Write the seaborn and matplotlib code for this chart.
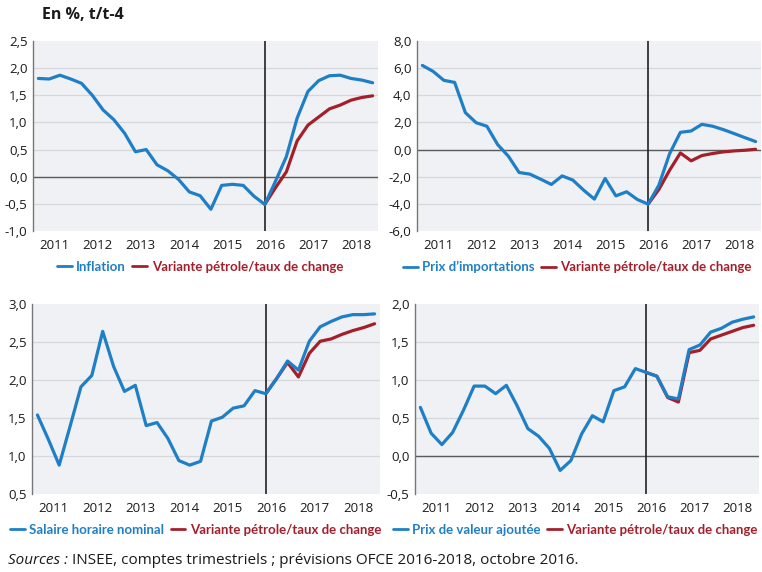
import numpy as np
import pandas as pd
import matplotlib
matplotlib.use('Agg')
import matplotlib.pyplot as plt
from matplotlib.ticker import FuncFormatter, FixedLocator
import seaborn as sns

# trimestres 2011T1 -> 2018T4
years = ['2011', '2012', '2013', '2014', '2015', '2016', '2017', '2018']
quarters = list(range(32))
start_var = 21   # 2016T2, dernier point observe

inflation = [1.81, 1.80, 1.87, 1.80, 1.72, 1.50, 1.23, 1.05, 0.80, 0.46, 0.50, 0.22,
             0.11, -0.05, -0.28, -0.35, -0.60, -0.16, -0.14, -0.16, -0.36, -0.51,
             -0.08, 0.37, 1.08, 1.57, 1.77, 1.86, 1.87, 1.81, 1.78, 1.73]
inflation_var = [-0.51, -0.20, 0.09, 0.66, 0.95, 1.10, 1.25, 1.32, 1.41, 1.46, 1.49]

prix_import = [6.20, 5.76, 5.10, 4.95, 2.72, 1.98, 1.72, 0.37, -0.49, -1.69, -1.81, -2.18,
               -2.57, -1.94, -2.25, -2.99, -3.65, -2.13, -3.41, -3.11, -3.68, -4.02,
               -2.62, -0.30, 1.27, 1.37, 1.86, 1.72, 1.47, 1.18, 0.88, 0.59]
prix_import_var = [-4.02, -2.94, -1.52, -0.25, -0.83, -0.44, -0.29, -0.17, -0.10, -0.05, 0.02]

salaire = [1.54, 1.22, 0.88, 1.39, 1.91, 2.06, 2.64, 2.18, 1.85, 1.93, 1.40, 1.44,
           1.23, 0.94, 0.88, 0.93, 1.46, 1.51, 1.63, 1.66, 1.86, 1.82,
           2.02, 2.25, 2.13, 2.51, 2.70, 2.77, 2.83, 2.86, 2.86, 2.87]
salaire_var = [1.82, 2.02, 2.23, 2.04, 2.35, 2.51, 2.54, 2.60, 2.65, 2.69, 2.74]

prix_va = [0.64, 0.30, 0.15, 0.31, 0.60, 0.92, 0.92, 0.82, 0.93, 0.66, 0.36, 0.26,
           0.10, -0.19, -0.06, 0.29, 0.53, 0.45, 0.86, 0.91, 1.15, 1.10,
           1.05, 0.78, 0.75, 1.40, 1.46, 1.63, 1.68, 1.76, 1.80, 1.83]
prix_va_var = [1.10, 1.05, 0.77, 0.71, 1.36, 1.39, 1.54, 1.59, 1.64, 1.69, 1.72]

var_label = 'Variante pétrole/taux de change'
blue = '#1f7fc6'
red = '#a3202b'

# nom, observe, variante, limites y, pas, cadre (g, h, d, b), position legende (x, y)
panels = [
    ('Inflation', inflation, inflation_var, (-1.0, 2.5), 0.5, (33, 41, 378, 231), (57, 267)),
    ('Prix d\u2019importations', prix_import, prix_import_var, (-6.0, 8.0), 2.0, (417, 41, 761, 231), (403, 267)),
    ('Salaire horaire nominal', salaire, salaire_var, (0.5, 3.0), 0.5, (32, 304, 380, 494), (10, 530)),
    ('Prix de valeur ajoutée', prix_va, prix_va_var, (-0.5, 2.0), 0.5, (415, 304, 759, 494), (393, 530)),
]

sns.set_style('white', {'axes.facecolor': '#f0f1f4'})
plt.rcParams['font.family'] = ['Open Sans', 'DejaVu Sans']

W, H = 762, 572
fig = plt.figure(figsize=(W / 100, H / 100), dpi=100)

def rect(l, t, r, b):
    return [l / W, 1 - b / H, (r - l) / W, (b - t) / H]

fmt = FuncFormatter(lambda v, p: f'{v:.1f}'.replace('.', ','))

for name, obs, var, ylim, step, box, legpos in panels:
    ax = fig.add_axes(rect(*box))
    df = pd.concat([
        pd.DataFrame({'t': quarters, 'val': obs, 'serie': name}),
        pd.DataFrame({'t': quarters[start_var:], 'val': var, 'serie': var_label}),
    ])
    # grille horizontale
    yt = np.arange(ylim[0], ylim[1] + step / 2, step)
    for y in yt[1:-1]:
        ax.axhline(y, color='#d6d7db', lw=0.9, zorder=0)
    if ylim[0] < 0 < ylim[1]:
        ax.axhline(0, color='#5a5a5a', lw=1.0, zorder=1)
    ax.axvline(start_var, color='#222222', lw=1.2, zorder=1)

    sns.lineplot(data=df, x='t', y='val', hue='serie', hue_order=[var_label, name],
                 palette={name: blue, var_label: red}, lw=2.3, ax=ax, legend=False,
                 zorder=3)

    ax.set_xlim(-0.5, 31.5)
    ax.set_ylim(*ylim)
    ax.set_yticks(yt)
    ax.yaxis.set_major_formatter(fmt)
    ax.xaxis.set_major_locator(FixedLocator([1.5 + 4 * k for k in range(8)]))
    ax.set_xticklabels(years)
    ax.xaxis.set_minor_locator(FixedLocator([3.5 + 4 * k for k in range(7)]))
    ax.tick_params(axis='x', which='major', length=0, pad=6, labelsize=9.5, colors='#1a1a1a')
    ax.tick_params(axis='x', which='minor', length=5, width=1, color='#777777', direction='out')
    ax.tick_params(axis='y', length=0, pad=4, labelsize=9.5, colors='#1a1a1a')
    ax.set_xlabel('')
    ax.set_ylabel('')
    for s in ['top', 'right', 'bottom']:
        ax.spines[s].set_visible(False)
    ax.spines['left'].set_color('#777777')
    ax.spines['left'].set_linewidth(1.0)

    handles = [plt.Line2D([], [], color=blue, lw=2), plt.Line2D([], [], color=red, lw=2)]
    leg = ax.legend(handles, [name, var_label], loc='center left',
                    bbox_to_anchor=(legpos[0] / W, 1 - legpos[1] / H),
                    bbox_transform=fig.transFigure,
                    ncol=2, frameon=False, handlelength=1.1, handletextpad=0.35,
                    columnspacing=0.5, borderaxespad=0, borderpad=0,
                    prop={'family': ['Lato', 'DejaVu Sans'], 'size': 9.5, 'weight': 'bold'})
    for txt, c in zip(leg.get_texts(), [blue, red]):
        txt.set_color(c)

fig.text(42 / W, 1 - 15 / H, 'En %, t/t-4', fontsize=11.5, fontweight='bold',
         va='center', ha='left', color='#1a1a1a')

# source : partie en italique puis texte normal
r = fig.canvas.get_renderer()
t1 = fig.text(8 / W, 1 - 561 / H, 'Sources :', fontsize=11, style='italic',
              va='center', ha='left', color='#1a1a1a')
bb = t1.get_window_extent(renderer=r)
fig.text((bb.x1 + 4) / W, 1 - 561 / H,
         'INSEE, comptes trimestriels ; prévisions OFCE 2016-2018, octobre 2016.',
         fontsize=11, va='center', ha='left', color='#1a1a1a')

fig.savefig('out.png', dpi=100)
